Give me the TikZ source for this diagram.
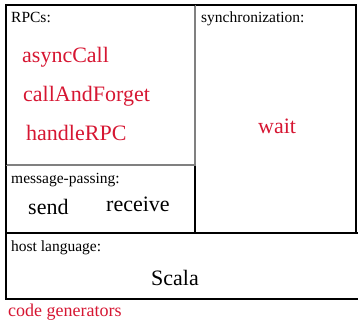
\documentclass[tikz,border=0pt]{standalone}
\usepackage{fontspec}
\setmainfont{Liberation Serif}
\definecolor{apired}{RGB}{214,22,50}
\tikzset{
  area/.style={draw, line width=1.2pt, inner sep=0pt},
  caption/.style={anchor=base west, inner sep=0pt, font=\fontsize{15.5}{18}\selectfont},
  prim/.style={anchor=base west, inner sep=0pt, font=\fontsize{22}{25}\selectfont},
}
\begin{document}
\begin{tikzpicture}[x=1pt, y=-1pt]
\useasboundingbox (0,0) rectangle (358,322);
% the four areas
\draw[area] (195,5) rectangle (356,233);
\draw[area] (6,233) rectangle (372,299);
\draw[area] (6,165) rectangle (195,233);
\draw[area, draw=gray] (6,165) -- (195,165) -- (195,5);
\draw[area] (195,5) -- (6,5) -- (6,165);
% captions
\node[caption] (rpcs) at (11,22) {RPCs:};
\node[caption] (sync) at (201,22) {synchronization:};
\node[caption] (msg) at (11,183) {message-passing:};
\node[caption] (host) at (11,251) {host language:};
% primitives
\node[prim, text=apired] (async) at (22,62.5) {asyncCall};
\node[prim, text=apired] (forget) at (23,101.5) {callAndForget};
\node[prim, text=apired] (handle) at (26,140) {handleRPC};
\node[prim, text=apired] (wait) at (258,133.5) {wait};
\node[prim] (send) at (28,214) {send};
\node[prim] (recv) at (106,211.5) {receive};
\node[prim] (scala) at (151,285) {Scala};
\node[anchor=base west, inner sep=0pt, text=apired, font=\fontsize{18}{21}\selectfont] (gen) at (8,316.5) {code generators};
\end{tikzpicture}
\end{document}
